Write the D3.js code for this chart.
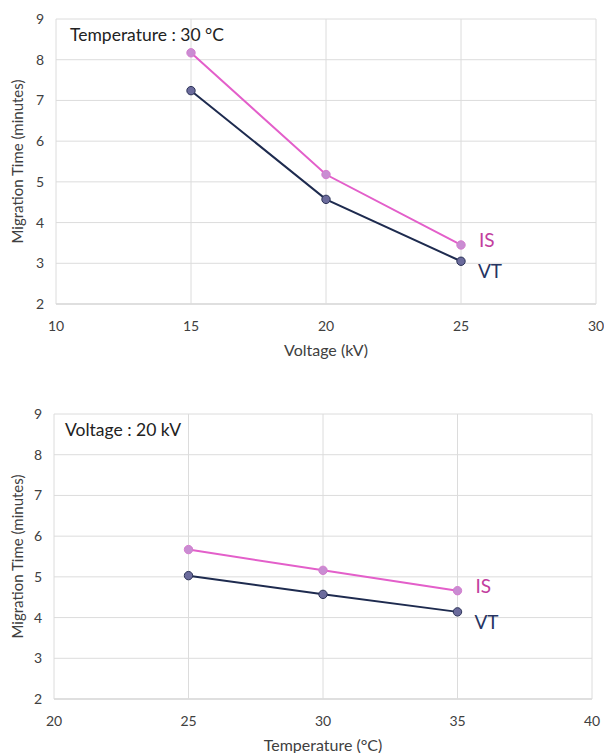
<!DOCTYPE html>
<html><head><meta charset="utf-8">
<script src="https://cdn.jsdelivr.net/npm/d3@7/dist/d3.min.js"></script>
<style>
body{margin:0;background:#fff;}
text{font-family:Lato,"Open Sans",sans-serif;}
</style></head>
<body><svg id="c" width="604" height="753"></svg>
<script>
// Top chart: Temperature 30 °C, voltage varied
const voltages = [15, 20, 25];
const isByVoltage = [8.17, 5.18, 3.45];
const vtByVoltage = [7.24, 4.57, 3.05];
const voltageTicks = [10, 15, 20, 25, 30];
// Bottom chart: Voltage 20 kV, temperature varied
const temperatures = [25, 30, 35];
const isByTemp = [5.67, 5.16, 4.66];
const vtByTemp = [5.03, 4.57, 4.14];
const tempTicks = [20, 25, 30, 35, 40];
const yTicks = [2, 3, 4, 5, 6, 7, 8, 9];

const svg = d3.select("#c");
const IS_LINE = "#e35fca", IS_FILL = "#c98dd2", IS_TEXT = "#c23e9e";
const VT_LINE = "#1e2b4f", VT_FILL = "#6b6b9c", VT_TEXT = "#263462";

function chart(cfg){
  const g = svg.append("g");
  const x = d3.scaleLinear().domain(cfg.xdom).range([cfg.left, cfg.right]);
  const y = d3.scaleLinear().domain([2, 9]).range([cfg.bottom, cfg.top]);
  // grid
  g.selectAll(".hg").data(yTicks).join("line")
    .attr("x1", cfg.left).attr("x2", cfg.right)
    .attr("y1", d=>y(d)).attr("y2", d=>y(d))
    .attr("stroke", d=> d===2 ? "#bfbfbf" : "#dcdcdc").attr("stroke-width",1);
  g.selectAll(".vg").data(cfg.xticks).join("line")
    .attr("x1", d=>x(d)).attr("x2", d=>x(d))
    .attr("y1", cfg.top).attr("y2", cfg.bottom)
    .attr("stroke", "#dcdcdc").attr("stroke-width",1);
  // y tick labels
  g.selectAll(".yl").data(yTicks).join("text")
    .attr("x", cfg.left - 12).attr("y", d=>y(d)+5)
    .attr("text-anchor","end").attr("font-size",14).attr("fill","#404040")
    .text(d=>d);
  // x tick labels
  g.selectAll(".xl").data(cfg.xticks).join("text")
    .attr("x", d=>x(d)).attr("y", cfg.bottom + 27)
    .attr("text-anchor","middle").attr("font-size",14).attr("fill","#404040")
    .text(d=>d);
  // axis titles
  g.append("text").attr("x", (cfg.left+cfg.right)/2).attr("y", cfg.bottom + 52)
    .attr("text-anchor","middle").attr("font-size",16).attr("fill","#404040")
    .text(cfg.xtitle);
  g.append("text")
    .attr("transform", `translate(23,${(cfg.top+cfg.bottom)/2}) rotate(-90)`)
    .attr("text-anchor","middle").attr("font-size",15).attr("fill","#404040")
    .text("Migration Time (minutes)");
  // annotation
  g.append("text").attr("x", cfg.noteX).attr("y", cfg.top + 22)
    .attr("font-size",17.5).attr("fill","#222").text(cfg.note);
  const line = d3.line().x((d,i)=>x(cfg.xs[i])).y(d=>y(d));
  const series = [
    {v: cfg.vt, line: VT_LINE, fill: VT_FILL, name:"VT"},
    {v: cfg.is, line: IS_LINE, fill: IS_FILL, name:"IS"}
  ];
  series.forEach(s=>{
    g.append("path").attr("d", line(s.v)).attr("fill","none")
      .attr("stroke", s.line).attr("stroke-width",2);
    g.selectAll(null).data(s.v).join("circle")
      .attr("cx",(d,i)=>x(cfg.xs[i])).attr("cy",d=>y(d)).attr("r",4.2)
      .attr("fill", s.fill).attr("stroke", s.name==="VT" ? "#2c3358" : "#d57ccf").attr("stroke-width",1);
  });
  // series labels
  const lastI = cfg.xs.length-1;
  g.append("text").attr("x", x(cfg.xs[lastI]) + 18).attr("y", y(cfg.is[lastI]) + 2)
    .attr("font-size",19).attr("fill", IS_TEXT).text("IS");
  g.append("text").attr("x", x(cfg.xs[lastI]) + 17).attr("y", y(cfg.vt[lastI]) + 17)
    .attr("font-size",19).attr("fill", VT_TEXT).text("VT");
}

chart({xdom:[10,30], xticks: voltageTicks, xs: voltages, is: isByVoltage, vt: vtByVoltage,
  left:56, right:596, top:19, bottom:304, xtitle:"Voltage (kV)",
  note:"Temperature : 30 °C", noteX:70});
chart({xdom:[20,40], xticks: tempTicks, xs: temperatures, is: isByTemp, vt: vtByTemp,
  left:54, right:592, top:414, bottom:699, xtitle:"Temperature (°C)",
  note:"Voltage : 20 kV", noteX:65});
</script></body></html>
